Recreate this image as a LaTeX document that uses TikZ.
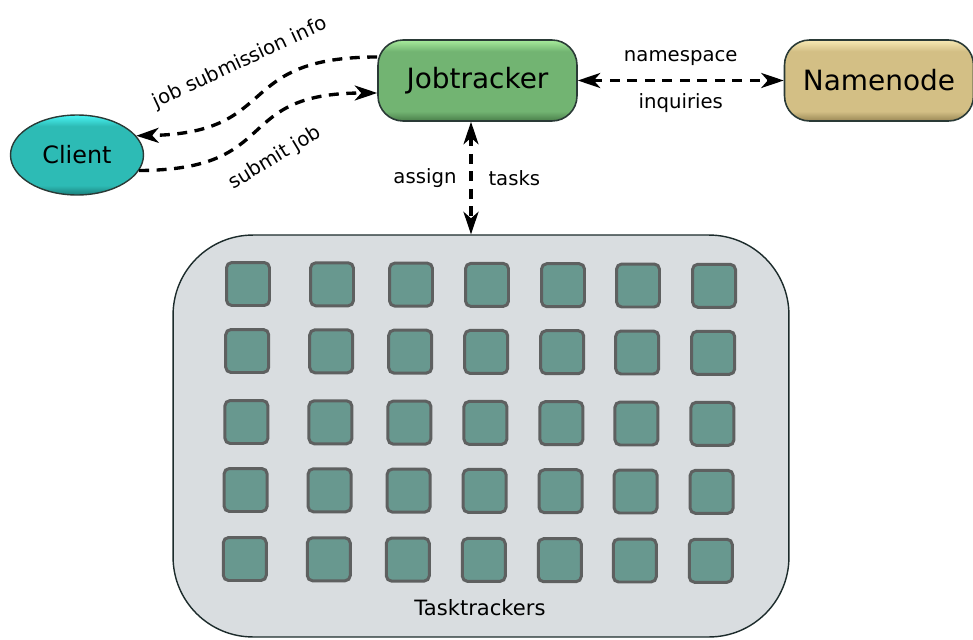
\documentclass[tikz,border=0pt]{standalone}
\usepackage{fontspec}
\setmainfont{DejaVu Sans}
\usepackage{xcolor}
\usepackage{tikz}
\usetikzlibrary{positioning}
\usetikzlibrary{arrows.meta}
\usetikzlibrary{shapes.geometric}
\definecolor{clientHi}{HTML}{4AF5F5}
\definecolor{clientMid}{HTML}{2DBBB5}
\definecolor{clientLo}{HTML}{1A7F7B}
\definecolor{jtHi}{HTML}{A8EC9C}
\definecolor{jtMid}{HTML}{72B472}
\definecolor{jtLo}{HTML}{4A7F4A}
\definecolor{nnHi}{HTML}{F8EAB4}
\definecolor{nnMid}{HTML}{D3BF85}
\definecolor{nnLo}{HTML}{9A8856}
\definecolor{poolFill}{HTML}{D9DDE0}
\definecolor{poolEdge}{HTML}{1C2B2B}
\definecolor{slotFill}{HTML}{68988F}
\definecolor{slotEdge}{HTML}{5E6060}
\definecolor{boxEdge}{HTML}{2A3A36}
% flat body with a light top rim and a dark bottom rim
\newcommand{\declbevel}[4]{\pgfdeclareverticalshading{#1}{100bp}{color(0bp)=(#4);
  color(25bp)=(#4); color(31bp)=(#3); color(68bp)=(#3); color(75bp)=(#2); color(100bp)=(#2)}}
\declbevel{jtBevel}{jtHi}{jtMid}{jtLo}
\declbevel{nnBevel}{nnHi}{nnMid}{nnLo}
\declbevel{clientBevel}{clientHi}{clientMid}{clientLo}
\tikzset{
  lbl/.style={font=\fontsize{11.2}{13}\selectfont},
  proc/.style={draw=boxEdge, line width=0.9pt, rounded corners=0.5cm,
    minimum height=1.62cm, inner sep=2pt, font=\fontsize{15.9}{18}\selectfont},
  link/.style={line width=1.9pt, dash pattern=on 0.2cm off 0.15cm},
  slot/.style={draw=slotEdge, line width=1.7pt, fill=slotFill,
    rounded corners=3pt, minimum size=0.86cm, inner sep=0pt}
}

\begin{document}
\begin{tikzpicture}[x=0.02cm, y=-0.02cm,
  >={Stealth[length=0.45cm, width=0.3cm, inset=0.13cm]}]
  \useasboundingbox (0,0) rectangle (973,639);
  % task trackers
  \node (tt) [draw=poolEdge, line width=0.8pt, fill=poolFill, rounded corners=1.6cm,
    minimum width=12.32cm, minimum height=8.04cm] at (481,436) {};
  \foreach \y [count=\r] in {284,351,422,490,559}
    \foreach \x [count=\c] in {248,332,411,487,563,638,714}
      \node (slot-\r-\c) [slot] at ({\x-0.8*(\r-1)}, {\y+0.3*(\c-1)}) {};
  \node (ttname) [lbl, font=\fontsize{12}{14}\selectfont] at (480,608) {Tasktrackers};
  % masters and client
  \node (jt) [proc, shading=jtBevel, minimum width=3.98cm] at (477.5,80.5) {Jobtracker};
  \node (nn) [proc, right=4.12cm of jt, shading=nnBevel, minimum width=3.78cm] {Namenode};
  \node (client) [ellipse, draw=boxEdge, line width=0.8pt, shading=clientBevel,
    minimum width=2.66cm, minimum height=1.6cm, inner sep=1pt,
    font=\fontsize{13.6}{16}\selectfont] at (77,155) {Client};
  % links
  \draw[link,<->] (jt) to node [lbl, above=0.14cm] {namespace}
    node [lbl, below=0.12cm] {inquiries} (nn);
  \draw[link,<->] ([xshift=-0.13cm]jt.south) to
    node [lbl, left=0.14cm] {assign} node [lbl, right=0.2cm] {tasks}
    ([xshift=-0.13cm]jt.south |- tt.north);
  \draw[link,->] ([yshift=0.47cm]jt.west) .. controls (232,57) and (282,133) .. (client.18);
  \draw[link,->] (client.-14) .. controls (284,170) and (230,93) .. ([yshift=-0.25cm]jt.west);
  \node (infolbl) [lbl, rotate=25] at (240,63) {job submission info};
  \node (submitlbl) [lbl, rotate=31] at (275,158) {submit job};
\end{tikzpicture}
\end{document}
